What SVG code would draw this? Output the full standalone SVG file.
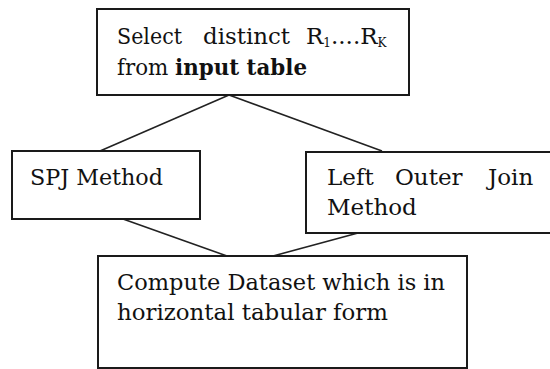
<svg xmlns="http://www.w3.org/2000/svg" width="550" height="369" viewBox="0 0 550 369">
<style>
.box{fill:#fff;stroke:#1a1a1a;stroke-width:2}
.ln{stroke:#222;stroke-width:1.6;fill:none}
text{font-family:"DejaVu Serif","Liberation Serif",serif;font-size:23px;fill:#111}
.sub{font-size:12px}
.b{font-weight:bold}
</style>
<rect width="550" height="369" fill="#fff"/>
<g id="connectors">
<line class="ln" x1="229" y1="95" x2="100" y2="151"/>
<line class="ln" x1="229" y1="95" x2="382" y2="151"/>
<line class="ln" x1="123" y1="219" x2="227" y2="256"/>
<line class="ln" x1="358" y1="233" x2="273" y2="256"/>
</g>
<g id="select">
<rect class="box" x="97" y="9" width="312" height="86"/>
<text y="44"><tspan x="117" textLength="65" lengthAdjust="spacingAndGlyphs">Select</tspan><tspan x="203" textLength="87" lengthAdjust="spacingAndGlyphs">distinct</tspan><tspan x="306">R</tspan><tspan class="sub" dy="3">1</tspan><tspan dy="-3">....R</tspan><tspan class="sub" dy="3">K</tspan></text>
<text y="75" textLength="190" lengthAdjust="spacingAndGlyphs" x="117">from <tspan class="b">input table</tspan></text>
</g>
<g id="spj">
<rect class="box" x="12" y="151" width="188" height="68"/>
<text x="30" y="185" textLength="133" lengthAdjust="spacingAndGlyphs">SPJ Method</text>
</g>
<g id="loj">
<rect class="box" x="306" y="152" width="250" height="81"/>
<text y="185"><tspan x="327">Left</tspan><tspan x="395">Outer</tspan><tspan x="488">Join</tspan></text>
<text x="327" y="215">Method</text>
</g>
<g id="compute">
<rect class="box" x="98" y="256" width="369" height="112"/>
<text x="117" y="290" textLength="328" lengthAdjust="spacingAndGlyphs">Compute Dataset which is in</text>
<text x="117" y="320" textLength="271" lengthAdjust="spacingAndGlyphs">horizontal tabular form</text>
</g>
</svg>
